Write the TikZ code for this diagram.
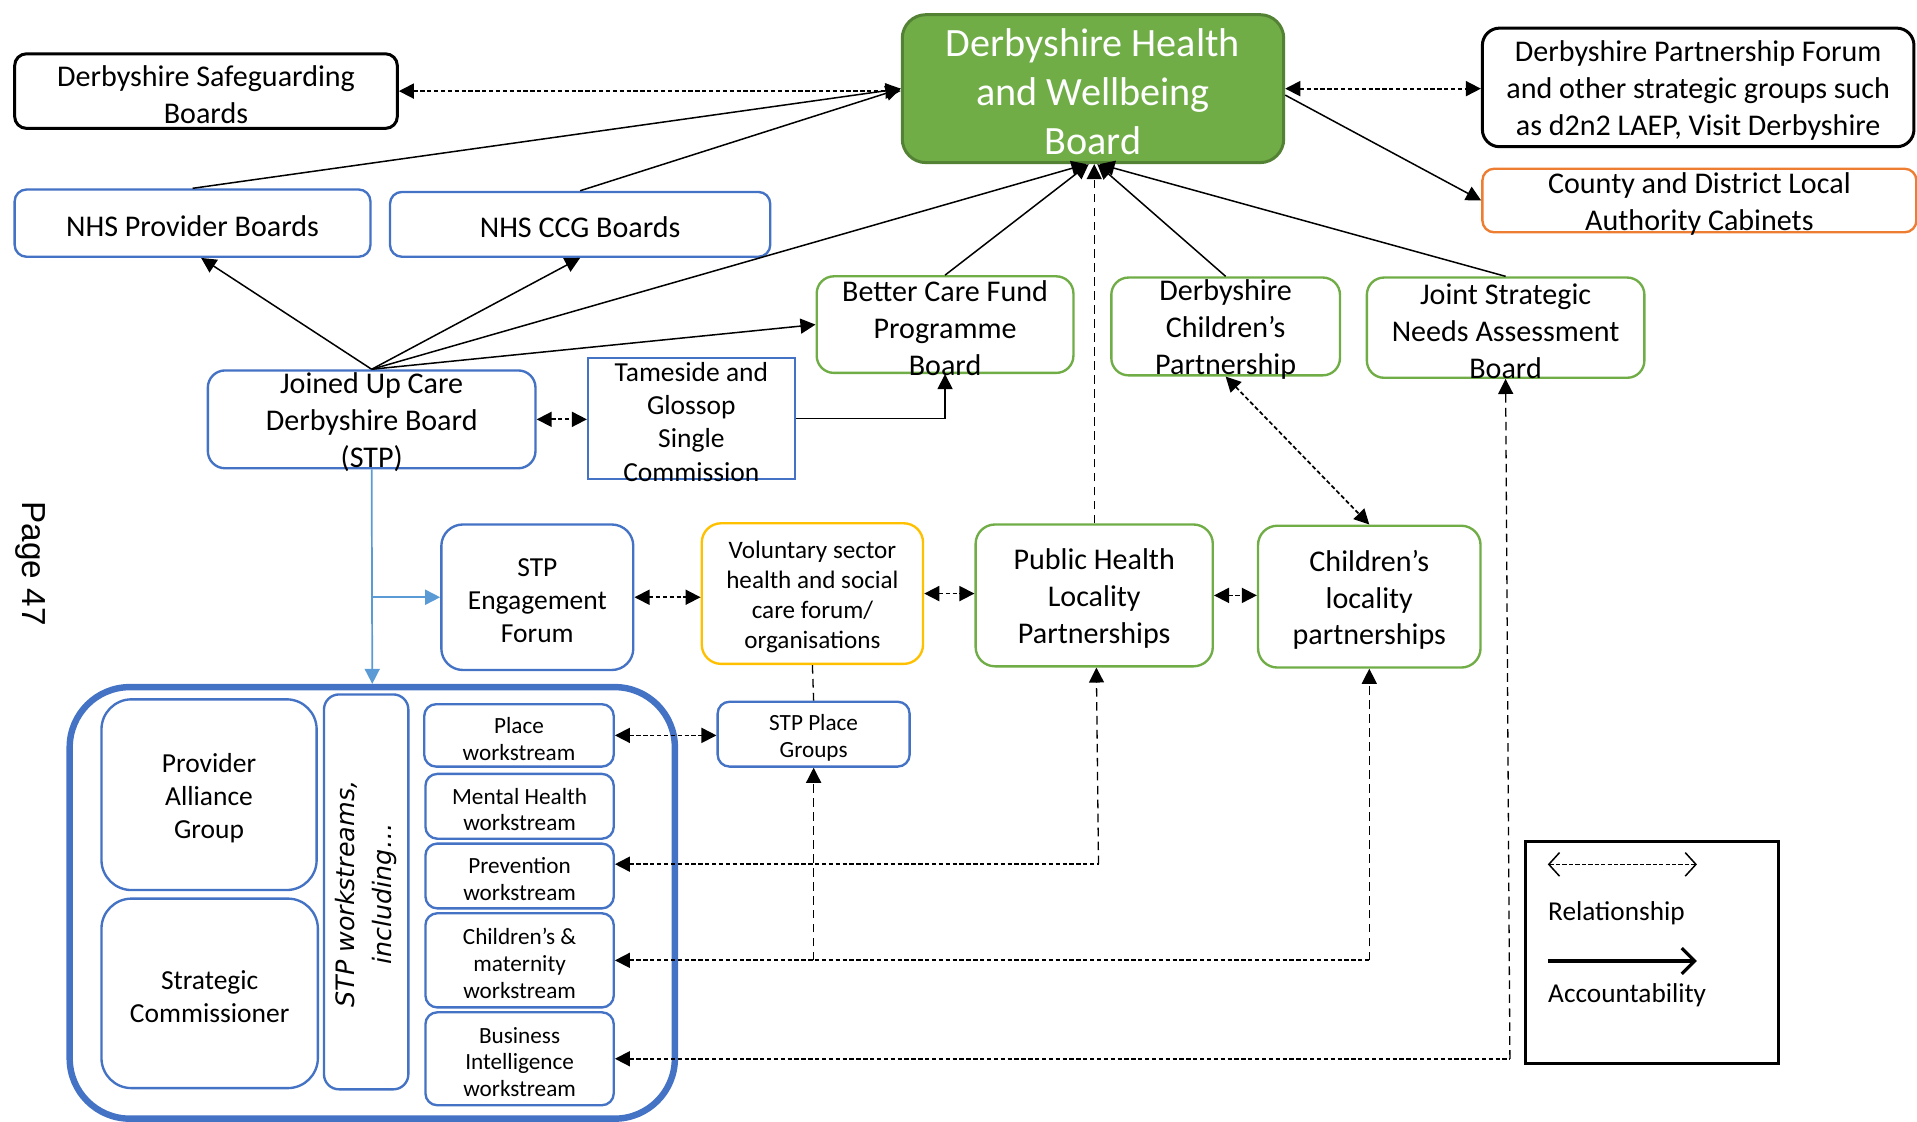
\documentclass[tikz,border=0pt]{standalone}
\usepackage{fontspec}
\setmainfont{Carlito}
\newfontfamily\vfont{DejaVu Sans}
\newfontfamily\pfont{Liberation Sans}
\usetikzlibrary{arrows.meta,calc}
\definecolor{cblue}{HTML}{4472C4}
\definecolor{cgreen}{HTML}{70AD47}
\definecolor{cgreend}{HTML}{548235}
\definecolor{corange}{HTML}{ED7D31}
\definecolor{cyellow}{HTML}{FFC000}
\definecolor{clblue}{HTML}{5B9BD5}
\newcommand\mybox[8]{%
  \node[#1, minimum width=#5*0.02cm, minimum height=#6*0.02cm] (#2) at (#3,#4) {};
  \node[txt, #7] (#2t) at ([yshift=-1.5pt]#2.center) {#8};}
\begin{document}
\begin{tikzpicture}[x=0.02cm,y=-0.02cm,
  box/.style={draw, fill=white, inner sep=0pt, line width=1.1pt, rounded corners=5.5pt},
  bluebox/.style={box, draw=cblue},
  greenbox/.style={box, draw=cgreen},
  orangebox/.style={box, draw=corange},
  yellowbox/.style={box, draw=cyellow},
  blackbox/.style={box, draw=black, line width=1.4pt},
  hwbbox/.style={box, fill=cgreen, draw=cgreend, line width=1.4pt, rounded corners=11pt},
  txt/.style={align=center, inner sep=0pt},
  f14/.style={font=\fontsize{14}{17.2}\selectfont},
  f13/.style={font=\fontsize{12.8}{15.4}\selectfont},
  f12/.style={font=\fontsize{11.7}{14}\selectfont},
  f11/.style={font=\fontsize{10.8}{12.5}\selectfont},
  fhwb/.style={font=\fontsize{18.7}{22.9}\selectfont, text=white},
  acc/.style={line width=0.7pt, -{Triangle[length=7pt,width=7pt]}},
  rel/.style={line width=0.8pt, dash pattern=on 2pt off 1.2pt, {Triangle[length=7pt,width=7pt]}-{Triangle[length=7pt,width=7pt]}},
  dot/.style={line width=0.8pt, dash pattern=on 2pt off 1.2pt},
  dsh/.style={line width=0.6pt, dash pattern=on 4pt off 2.5pt},
  lb/.style={draw=clblue, line width=0.8pt, -{Triangle[length=7pt,width=7pt,fill=clblue]}}
]
\useasboundingbox (0,0) rectangle (1568,917);

% ---- boxes ----
\mybox{blackbox}{SG}{168.5}{74.5}{313}{61}{f14}{Derbyshire Safeguarding\\Boards}
\mybox{hwbbox}{HWB}{894}{72.5}{312}{121}{fhwb}{Derbyshire Health\\and Wellbeing\\Board}
\mybox{blackbox, rounded corners=8pt}{PF}{1389}{71.5}{353}{97}{f14}{Derbyshire Partnership Forum\\and other strategic groups such\\as d2n2 LAEP, Visit Derbyshire}
\mybox{orangebox}{CC}{1390}{164}{355}{52}{f14}{County and District Local\\Authority Cabinets}
\mybox{bluebox}{NP}{157.5}{182.5}{291}{55}{f14}{NHS Provider Boards}
\mybox{bluebox}{NC}{474.5}{183.5}{311}{53}{f14}{NHS CCG Boards}
\mybox{bluebox, rounded corners=8pt}{JUCD}{304}{343}{268}{80}{f14}{Joined Up Care\\Derbyshire Board\\(STP)}
\mybox{bluebox, rounded corners=0pt}{TAM}{565.5}{342.5}{169}{99}{f13}{Tameside and\\Glossop\\Single\\Commission}
\mybox{greenbox, rounded corners=8pt}{BCF}{773}{265.5}{210}{79}{f14}{Better Care Fund\\Programme\\Board}
\mybox{greenbox, rounded corners=8pt}{DCP}{1002.5}{267}{187}{80}{f14}{Derbyshire\\Children’s\\Partnership}
\mybox{greenbox, rounded corners=8pt}{JSNA}{1231.5}{268}{227}{82}{f14}{Joint Strategic\\Needs Assessment\\Board}
\mybox{bluebox, rounded corners=10pt}{SE}{439.5}{488.5}{157}{119}{f13}{STP\\Engagement\\Forum}
\mybox{yellowbox, rounded corners=9pt}{VS}{664.5}{485.5}{181}{115}{f12}{Voluntary sector\\health and social\\care forum/\\organisations}
\mybox{greenbox, rounded corners=9pt}{PH}{895}{487}{194}{116}{f14}{Public Health\\Locality\\Partnerships}
\mybox{greenbox, rounded corners=9pt}{CL}{1120}{488}{182}{116}{f14}{Children’s\\locality\\partnerships}

\node[box, draw=cblue, line width=3pt, rounded corners=28pt, minimum width=495*0.02cm, minimum height=353*0.02cm] (BIG) at (304.5,738.5) {};
\mybox{bluebox, rounded corners=14pt}{PA}{171}{650}{176}{156}{f13}{Provider\\Alliance\\Group}
\mybox{bluebox, rounded corners=14pt}{SC}{171.5}{812.5}{177}{155}{f13}{Strategic\\Commissioner}
\node[bluebox, rounded corners=7pt, minimum width=69*0.02cm, minimum height=323*0.02cm] (VW) at (299.5,729.5) {};
\node[txt, rotate=90, font=\vfont\itshape\fontsize{11.8}{17.5}\selectfont] (VWt) at ([yshift=-1pt]VW.center) {STP workstreams,\\including…};
\mybox{bluebox}{PL}{424.5}{601.5}{155}{51}{f11}{Place\\workstream}
\mybox{bluebox}{MH}{425}{659.5}{154}{53}{f11}{Mental Health\\workstream}
\mybox{bluebox}{PV}{425}{716.5}{154}{53}{f11}{Prevention\\workstream}
\mybox{bluebox}{CM}{425}{785.5}{154}{77}{f11}{Children’s \&\\maternity\\workstream}
\mybox{bluebox}{BI}{425}{866}{154}{76}{f11}{Business\\Intelligence\\workstream}
\mybox{bluebox}{SPG}{665.5}{600.5}{157}{53}{f11}{STP Place\\Groups}

% ---- page label ----
\node[txt, rotate=-90, font=\pfont\fontsize{15.5}{18}\selectfont] (PG) at (25,461) {Page 47};

% ---- connectors (top) ----
\draw[rel] (SG.east) -- (SG.east -| HWB.west);
\draw[rel] (HWB.east) -- (HWB.east -| PF.west);
\draw[acc] ([yshift=-3pt]HWB.east) -- (CC.west);
\draw[acc] (NP.north) -- (HWB.west);
\draw[acc] (NC.north) -- (HWB.west);
\draw[acc] (JUCD.north) -- ([xshift=4pt]NP.south);
\draw[acc] (JUCD.north) -- (NC.south);
\draw[acc] (JUCD.north) -- ([xshift=-3pt]HWB.south);
\draw[acc] (JUCD.north) -- (BCF.west);
\draw[acc] (TAM.east) -| (BCF.south);
\draw[rel] (JUCD.east) -- (JUCD.east -| TAM.west);
\draw[acc] (BCF.north) -- ([xshift=-2pt]HWB.south);
\draw[acc] (DCP.north) -- ([xshift=2pt]HWB.south);
\draw[acc] (JSNA.north) -- ([xshift=3pt]HWB.south);
\draw[dsh, -{Triangle[length=7pt,width=7pt]}] (PH.north) -- (PH.north |- HWB.south);
\draw[rel] (DCP.south) -- (CL.north);

% ---- middle row ----
\draw[rel] (SE.east) -- (SE.east -| VS.west);
\draw[rel] (VS.east) -- (VS.east -| PH.west);
\draw[rel] (PH.east) -- (PH.east -| CL.west);

% ---- light blue ----
\draw[lb] (JUCD.south) -- (BIG.north);
\coordinate (jb) at (JUCD.south |- SE.west);
\draw[lb] (jb) -- (SE.west);

% ---- lower ----
\draw[dsh] (VS.south) -- (SPG.north);
\draw[rel] (PL.east) -- (PL.east -| SPG.west);

\coordinate (pve) at ([yshift=5.5pt]PV.east);
\coordinate (pvc) at ([xshift=2pt]PH.south |- pve);
\draw[dot, {Triangle[length=7pt,width=7pt]}-] (pve) -- (pvc);
\draw[dsh, -{Triangle[length=7pt,width=7pt]}] (pvc) -- ([xshift=1pt]PH.south);

\coordinate (cmc) at (CL.south |- CM.east);
\draw[dot, {Triangle[length=7pt,width=7pt]}-] (CM.east) -- (cmc);
\draw[dsh, -{Triangle[length=7pt,width=7pt]}] (cmc) -- (CL.south);
\coordinate (cms) at (SPG.south |- CM.east);
\draw[dsh, -{Triangle[length=7pt,width=7pt]}] (cms) -- (SPG.south);

\coordinate (bic) at ([xshift=2pt]JSNA.south |- BI.east);
\draw[dot, {Triangle[length=7pt,width=7pt]}-] (BI.east) -- (bic);
\draw[dsh, -{Triangle[length=7pt,width=7pt]}] (bic) -- (JSNA.south);

% ---- legend ----
\node[draw=black, line width=1.4pt, inner sep=0pt, minimum width=207*0.02cm, minimum height=182*0.02cm] (LEG) at (1351.5,779) {};
\coordinate (L1a) at (1266,707);
\coordinate (L1b) at (1388,707);
\coordinate (L2a) at (1266,786);
\coordinate (L2b) at (1388,786);
\draw[line width=0.7pt, dash pattern=on 2pt off 1pt, {Straight Barb[length=5pt,width=11pt]}-{Straight Barb[length=5pt,width=11pt]}] (L1a) -- (L1b);
\draw[line width=1.5pt, -{Straight Barb[length=6pt,width=12pt]}] (L2a) -- (L2b);
\node[txt, anchor=west, font=\fontsize{12.7}{15}\selectfont] (LR) at (1266,747) {Relationship};
\node[txt, anchor=west, font=\fontsize{12.7}{15}\selectfont] (LA) at (1266,814) {Accountability};
\end{tikzpicture}
\end{document}
